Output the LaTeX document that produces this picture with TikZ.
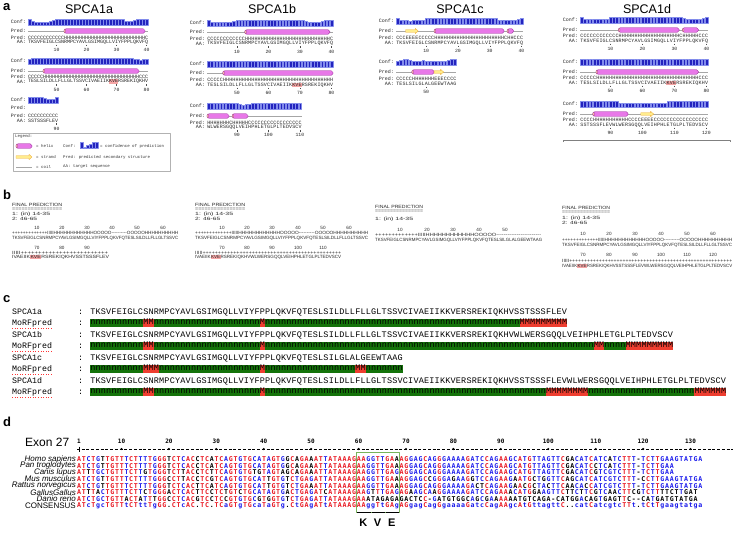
\documentclass[tikz,border=0pt]{standalone}
\usepackage{fontspec}
\setmainfont{Liberation Sans}
\newfontfamily\courfont{Liberation Mono}
\newfontfamily\tinysans{Liberation Sans}
\newfontfamily\alnfont{DejaVu Sans Mono}
\usepackage{xcolor}
\usepackage{graphicx}
\usepackage{tikz}
\usetikzlibrary{calc}

\definecolor{helixpink}{RGB}{232,120,232}
\definecolor{helixedge}{RGB}{150,40,150}
\definecolor{helixtip}{RGB}{250,190,160}
\definecolor{strandyel}{RGB}{255,236,140}
\definecolor{strandedge}{RGB}{240,175,60}
\definecolor{confblue}{RGB}{35,35,190}
\definecolor{conflight}{RGB}{130,140,235}
\definecolor{hlred}{RGB}{245,165,165}
\definecolor{morfgreen}{RGB}{20,115,10}
\definecolor{morfred}{RGB}{238,62,48}
\definecolor{alnred}{RGB}{232,20,30}
\definecolor{alnblue}{RGB}{25,25,235}
\definecolor{boxgreen}{RGB}{120,180,90}

% fixed width character cells
\newlength\chw
\setlength\chw{3pt}
\newcommand\rp[2]{\ifnum#1>0 #2\expandafter\rp\expandafter{\the\numexpr#1-1\relax}{#2}\fi}
\def\fwseq#1{\edef\fwtmp{#1}\expandafter\fwseqA\fwtmp\relax}
\def\fwseqA#1{\ifx\relax#1\else\makebox[\chw][c]{#1}\expandafter\fwseqA\fi}
\newcommand\fitw[2]{\resizebox{#1pt}{\height}{#2}}
\newcommand\hlkve[1]{{\setlength\fboxsep{0.4pt}\colorbox{hlred}{#1}}}

% alignment colouring against the consensus line
\def\alnseq#1#2{\edef\alnall{\noexpand\alnA#1\noexpand\relax\noexpand\qqend#2..........\noexpand\relax\noexpand\qqend}\alnall}
\def\alnA#1#2\qqend#3#4\qqend{\ifx\relax#1\expandafter\alnstop\else\expandafter\alngo\fi{#1}{#2}{#3}{#4}}
\def\alnstop#1#2#3#4{}
\def\alngo#1#2#3#4{\alnchar{#1}{#3}\alnA#2\qqend#4\qqend}
\def\alnchar#1#2{%
  \uppercase{\def\alnCU{#1}\def\alnKU{#2}}%
  \def\alnKL{#2}\def\alncol{black}%
  \ifx\alnCU\alnKU\ifx\alnKL\alnKU\def\alncol{alnred}\else\def\alncol{alnblue}\fi\fi
  \if.#2\def\alncol{black}\fi
  \makebox[\chw][c]{\textcolor{\alncol}{#1}}}

% MoRFpred cells
\def\morfrow#1{\edef\mftmp{#1}\expandafter\morfA\mftmp\relax}
\def\morfA#1{\ifx\relax#1\else\morfch{#1}\expandafter\morfA\fi}
\def\morfch#1{\if n#1\def\mfcol{morfgreen}\else\def\mfcol{morfred}\fi
  \rlap{\textcolor{\mfcol}{\rule[-2.6pt]{\chw}{8.6pt}}}\makebox[\chw][c]{#1}}

% PSIPRED pieces
\newcount\cbi
\def\confbars#1#2#3#4{\def\cbx{#1}\def\cbw{#2}\def\cby{#3}\cbi=0 \cbA#4\relax}
\def\cbA#1{\ifx\relax#1\else\cbdraw{#1}\advance\cbi by 1 \expandafter\cbA\fi}
\def\cbdraw#1{\filldraw[confbar] ({\cbx+\the\cbi*\cbw+0.35},\cby) rectangle ({\cbx+(\the\cbi+1)*\cbw-0.35},{\cby-0.45-0.62*#1});}
\newcommand\helixseg[3]{%
  \draw[helixbar] (#1,#3-2.3) rectangle (#2,#3+2.3);
  \draw[helixcap] (#1+0.8,#3) ellipse (0.8 and 2.0);}
\newcommand\strandseg[3]{%
  \draw[strandarrow] (#1,#3-1.3) -- (#2-3,#3-1.3) -- (#2-3,#3-2.7) -- (#2,#3) -- (#2-3,#3+2.7) -- (#2-3,#3+1.3) -- (#1,#3+1.3) -- cycle;}
\newcommand\psinum[4]{%
  \draw[psitick] (#2,#3+2.6) -- (#2,#3+4.2);
  \node[psinum] (#1) at (#2,#3+8) {#4};}

\def\pA{TKSVFEIGLCSNRMPCYAVLGSIMGQLLVIYFPPLQKVFQ}
\def\pB{TESLSILDLLFLLGLTSSVC}
\def\pC{IVAEIIKKVERSREKIQKHV}

\def\seqHomo{ATCTGTTGTTTCTTTTGGGTCTCACCTCATCAGTGTGCATAGTGGCAGAAATTATAAAGAAGGTTGAAAGGAGCAGGGAAAAGATCCAGAAGCATGTTAGTTCGACATCATCATCTTT-TCTTGAAGTATGA}
\def\seqPan{ATCTGTTGTTTCTTTTGGGTCTCACCTCATCAGTGTGCATAGTGGCAGAAATTATAAAGAAGGTTGAAAGGAGCAGGGAAAAGATCCAGAAGCATGTTAGTTCGACATCCTCATCTTT-TCTTGAA}
\def\seqCanis{ATTTGCTGTTTCTTGTGGGTCTTACCTCTTCAGTGTGTGTAGTAGCAGAAATTATAAAGAAGGTTGAGAGGAGCAGGGAAAAGATCCAGAAGCATGTTAGTTCGACATCGTCGTCTTT-TCTTGAA}
\def\seqMus{ATCTGTTGTTTCTTTTGGGCCTTACCTCGTCAGTGTGCATTGTGTCTGAGATTATAAAGAAGGTTGAAAGGAGCCGGGAGAAGGTCCAGAAGAATGCTGGTTCAGCATCATCGTCTTT-CCTTGAAGTATGA}
\def\seqRattus{ATCTGTTGTTTCTTTTGGGTCTCACTTCATCAGTGTGCATTGTGTCTGAAATTATAAAGAAGGTTGAAAGGAGCAGGGAAAAGACTCAGAAGAACGCTACTTCAACACCATCGTCTTT-TCTTGAAGTATGA}
\def\seqGallus{ATTTACTGTTTCTTCTGGGACTCACTTCCTCTGTCTGCATAGTGACTGAGATCATAAAGAAGTTTGAGAGAAGCAAGGAAAAGATCCAGAAACATGGAAGTTCTTCTTCGTCAACTTCGTCTTTTCTTGAT}
\def\seqDanio{ATCTGCTGTTACTATTTGGCCTCACGTCCTCCGTGTGCGTGGTGTCTGAGATTATAAAGAAATAGAGAGACTCC-GATGTGGCAGCGAAAAAATGTCAGA-CATGGACAGTGAGTTC--CATGATGTATGA}
\def\seqCons{ATcTgcTGTTtCTttTgGG.CTcAC.TC.TCaGTgTGcaTaGTg.CtGAgATtATAAAGAAggTtGAgAGgagCagGgaaaaGatcCagAAgcAtGttagttC..catCatcgtcTTt.tCtTgaagtatga}

\begin{document}
\begin{tikzpicture}[x=1pt,y=-1pt,line join=round,
  panellab/.style={font=\bfseries\fontsize{13}{13}\selectfont,inner sep=0,anchor=base west},
  isotitle/.style={font=\fontsize{12.5}{12.5}\selectfont,inner sep=0},
  psitxt/.style={font=\courfont\fontsize{5}{5}\selectfont,inner sep=0,anchor=west,text=black!85},
  psilab/.style={font=\courfont\fontsize{5}{5}\selectfont,inner sep=0,anchor=east,text=black!85},
  psinum/.style={font=\courfont\fontsize{4.8}{4.8}\selectfont,inner sep=0,text=black!85},
  psitick/.style={line width=0.3pt,black!70},
  colA/.style={execute at begin node={\setlength\chw{3pt}}},
  colB/.style={execute at begin node={\setlength\chw{3.15pt}}},
  colC/.style={execute at begin node={\setlength\chw{3.175pt}}},
  colD/.style={execute at begin node={\setlength\chw{3.2pt}}},
  helixbar/.style={fill=helixpink,draw=helixedge,line width=0.35pt,rounded corners=1.8pt},
  helixcap/.style={fill=helixtip,draw=helixedge,line width=0.2pt},
  strandarrow/.style={fill=strandyel,draw=strandedge,line width=0.35pt},
  coilline/.style={draw=gray!70,line width=0.6pt},
  confbar/.style={fill=confblue,draw=conflight,line width=0.25pt},
  kvehl/.style={fill=hlred},
  legendbox/.style={draw=gray!60,line width=0.7pt},
  legtxt/.style={font=\courfont\fontsize{4.1}{4.1}\selectfont,inner sep=0,anchor=west,text=black!80},
  tmtxt/.style={font=\tinysans\fontsize{4.6}{4.6}\selectfont,inner sep=0,anchor=west,text=black!85},
  tmnum/.style={font=\tinysans\fontsize{4.6}{4.6}\selectfont,inner sep=0,text=black!85},
  morflab/.style={font=\courfont\fontsize{8.3}{8.3}\selectfont,inner sep=0,anchor=west},
  morfbar/.style={font=\courfont\fontsize{8.5}{8.5}\selectfont,inner sep=0,anchor=west,execute at begin node={\setlength\chw{5.3pt}}},
  spellline/.style={draw=red!80,dotted,line width=0.6pt},
  exonlab/.style={font=\fontsize{12}{12}\selectfont,inner sep=0,anchor=west},
  species/.style={font=\itshape\fontsize{8}{8}\selectfont,inner sep=0,anchor=east},
  conslab/.style={font=\fontsize{8}{8}\selectfont,inner sep=0,anchor=east},
  alnrow/.style={font=\alnfont\bfseries\fontsize{6.6}{6.6}\selectfont,inner sep=0,anchor=west,execute at begin node={\setlength\chw{4.742pt}}},
  rulerline/.style={line width=0.8pt,dash pattern=on 3pt off 1.742pt},
  rulernum/.style={font=\alnfont\bfseries\fontsize{6}{6}\selectfont,inner sep=0},
  kvebox/.style={draw=boxgreen,line width=0.9pt},
  codonbar/.style={line width=1.3pt},
  aminolab/.style={font=\bfseries\fontsize{11}{11}\selectfont,inner sep=0}]
  \useasboundingbox (0,0) rectangle (733,544);

  % ---------------- a: PSIPRED
  \node[panellab] (pa) at (3,10.5) {a};
  \node[isotitle] (tA) at (89,9.5) {SPCA1a};
  \node[isotitle] (tB) at (272,9.5) {SPCA1b};
  \node[isotitle] (tC) at (460,9.5) {SPCA1c};
  \node[isotitle] (tD) at (647,9.5) {SPCA1d};

  % SPCA1a
  \confbars{28}{3}{25}{9544444579 9999999999 9999999999 9966678889}
  \node[psilab] (Aconf1) at (26,22) {Conf:};
  \node[psilab] (Apred1) at (26,31) {Pred:};
  \draw[coilline] (28,31) -- (148,31);
  \helixseg{64}{145}{31}
  \node[psilab] (Assl1) at (26,37.5) {Pred:};
  \node[psitxt,colA] (Ass1) at (28,37.5) {\fwseq{\rp{12}{C}\rp{27}{H}C}};
  \node[psilab] (Aaal1) at (26,42) {AA:};
  \node[psitxt,colA] (Aaa1) at (28,42) {\fwseq{\pA}};
  \psinum{An10}{56.5}{42}{10}
  \psinum{An20}{86.5}{42}{20}
  \psinum{An30}{116.5}{42}{30}
  \psinum{An40}{146.5}{42}{40}
  \confbars{28}{3}{64}{7899999999 9999999999 9999999999 9999977677}
  \node[psilab] (Aconf2) at (26,61) {Conf:};
  \node[psilab] (Apred2) at (26,71) {Pred:};
  \draw[coilline] (28,71) -- (148,71);
  \helixseg{43}{139}{71}
  \node[psilab] (Assl2) at (26,77) {Pred:};
  \node[psitxt,colA] (Ass2) at (28,77) {\fwseq{\rp{5}{C}\rp{32}{H}\rp{3}{C}}};
  \fill[kvehl] (109,79.2) rectangle (118,83.8);
  \node[psilab] (Aaal2) at (26,81.5) {AA:};
  \node[psitxt,colA] (Aaa2) at (28,81.5) {\fwseq{\pB\pC}};
  \psinum{An50}{56.5}{81.5}{50}
  \psinum{An60}{86.5}{81.5}{60}
  \psinum{An70}{116.5}{81.5}{70}
  \psinum{An80}{146.5}{81.5}{80}
  \confbars{28}{3}{103}{9999876668}
  \node[psilab] (Aconf3) at (26,100) {Conf:};
  \node[psilab] (Apred3) at (26,108) {Pred:};
  \node[psilab] (Assl3) at (26,116) {Pred:};
  \node[psitxt,colA] (Ass3) at (28,116) {\fwseq{\rp{10}{C}}};
  \node[psilab] (Aaal3) at (26,120.5) {AA:};
  \node[psitxt,colA] (Aaa3) at (28,120.5) {\fwseq{SSTSSSFLEV}};
  \psinum{An90}{56.5}{120.5}{90}

  % legend
  \draw[legendbox] (13,133) rectangle (170,171);
  \node[legtxt] (lgt) at (15,136.5) {Legend:};
  \helixseg{16}{32}{146}
  \node[legtxt] (lghx) at (36,146) {= helix};
  \node[legtxt] (lgcf) at (63,146) {Conf:};
  \confbars{80}{3}{148.5}{925799}
  \node[legtxt] (lgcp) at (100,146) {= confidence of prediction};
  \strandseg{16}{32}{157}
  \node[legtxt] (lgst) at (36,157) {= strand};
  \node[legtxt] (lgpr) at (63,157) {Pred: predicted secondary structure};
  \draw[coilline] (16,167) -- (32,167);
  \node[legtxt] (lgco) at (36,167) {= coil};
  \node[legtxt] (lgaa) at (63,167) {AA: target sequence};

  % SPCA1b
  \confbars{207}{3.15}{26}{9655555679 9999999999 9999999999 8766667899}
  \node[psilab] (Bconf1) at (205,23) {Conf:};
  \node[psilab] (Bpred1) at (205,32) {Pred:};
  \draw[coilline] (207,32) -- (333,32);
  \helixseg{244.8}{329.9}{32}
  \node[psilab] (Bssl1) at (205,38.7) {Pred:};
  \node[psitxt,colB] (Bss1) at (207,38.7) {\fwseq{\rp{12}{C}\rp{27}{H}C}};
  \node[psilab] (Baal1) at (205,43.5) {AA:};
  \node[psitxt,colB] (Baa1) at (207,43.5) {\fwseq{\pA}};
  \psinum{Bn10}{236.9}{43.5}{10}
  \psinum{Bn20}{268.4}{43.5}{20}
  \psinum{Bn30}{299.9}{43.5}{30}
  \psinum{Bn40}{331.4}{43.5}{40}
  \confbars{207}{3.15}{67}{8999999999 9999999999 9999999999 9999999999}
  \node[psilab] (Bconf2) at (205,64) {Conf:};
  \node[psilab] (Bpred2) at (205,73) {Pred:};
  \draw[coilline] (207,73) -- (333,73);
  \helixseg{222.8}{333}{73}
  \node[psilab] (Bssl2) at (205,80) {Pred:};
  \node[psitxt,colB] (Bss2) at (207,80) {\fwseq{\rp{5}{C}\rp{35}{H}}};
  \fill[kvehl] (292,82.7) rectangle (301.5,87.3);
  \node[psilab] (Baal2) at (205,85) {AA:};
  \node[psitxt,colB] (Baa2) at (207,85) {\fwseq{\pB\pC}};
  \psinum{Bn50}{236.9}{85}{50}
  \psinum{Bn60}{268.4}{85}{60}
  \psinum{Bn70}{299.9}{85}{70}
  \psinum{Bn80}{331.4}{85}{80}
  \confbars{207}{3.15}{109}{9999999889 7677899999 9999999999}
  \node[psilab] (Bconf3) at (205,106) {Conf:};
  \node[psilab] (Bpred3) at (205,116) {Pred:};
  \draw[coilline] (207,116) -- (301.5,116);
  \helixseg{207}{229}{116}
  \helixseg{232.2}{248}{116}
  \node[psilab] (Bssl3) at (205,122.5) {Pred:};
  \node[psitxt,colB] (Bss3) at (207,122.5) {\fwseq{\rp{7}{H}C\rp{5}{H}\rp{17}{C}}};
  \node[psilab] (Baal3) at (205,127.3) {AA:};
  \node[psitxt,colB] (Baa3) at (207,127.3) {\fwseq{WLWERSGQQLVEIHPHLETGLPLTEDVSCV}};
  \psinum{Bn90}{236.9}{127.3}{90}
  \psinum{Bn100}{268.4}{127.3}{100}
  \psinum{Bn110}{299.9}{127.3}{110}

  % SPCA1c
  \confbars{396}{3.175}{24}{9655455568 9999999999 9999999999 9955556679}
  \node[psilab] (Cconf1) at (394,21) {Conf:};
  \node[psilab] (Cpred1) at (394,31) {Pred:};
  \draw[coilline] (396,31) -- (523,31);
  \strandseg{405.5}{418.2}{31}
  \helixseg{434.1}{504}{31}
  \helixseg{507.1}{513.5}{31}
  \node[psilab] (Cssl1) at (394,38) {Pred:};
  \node[psitxt,colC] (Css1) at (396,38) {\fwseq{CCCEEEECCCCC\rp{22}{H}CHHCCC}};
  \node[psilab] (Caal1) at (394,43) {AA:};
  \node[psitxt,colC] (Caa1) at (396,43) {\fwseq{\pA}};
  \psinum{Cn10}{426.2}{43}{10}
  \psinum{Cn20}{457.9}{43}{20}
  \psinum{Cn30}{489.7}{43}{30}
  \psinum{Cn40}{521.4}{43}{40}
  \confbars{396}{3.175}{65}{5799765676 665556789}
  \node[psilab] (Cconf2) at (394,62) {Conf:};
  \node[psilab] (Cpred2) at (394,72) {Pred:};
  \draw[coilline] (396,72) -- (456.3,72);
  \helixseg{411.9}{434.1}{72}
  \strandseg{434.1}{443.6}{72}
  \node[psilab] (Cssl2) at (394,79) {Pred:};
  \node[psitxt,colC] (Css2) at (396,79) {\fwseq{CCCCCHHHHHHHEEECCCC}};
  \node[psilab] (Caal2) at (394,84) {AA:};
  \node[psitxt,colC] (Caa2) at (396,84) {\fwseq{TESLSILGLALGEEWTAAG}};
  \psinum{Cn50}{426.2}{84}{50}

  % SPCA1d
  \confbars{580}{3.2}{23}{9655555569 9999999999 9999999999 9975555679}
  \node[psilab] (Dconf1) at (578,20) {Conf:};
  \node[psilab] (Dpred1) at (578,30) {Pred:};
  \draw[coilline] (580,30) -- (708,30);
  \helixseg{618.4}{679.2}{30}
  \helixseg{682.4}{698.4}{30}
  \node[psilab] (Dssl1) at (578,36) {Pred:};
  \node[psitxt,colD] (Dss1) at (580,36) {\fwseq{\rp{12}{C}\rp{19}{H}C\rp{5}{H}\rp{3}{C}}};
  \node[psilab] (Daal1) at (578,41) {AA:};
  \node[psitxt,colD] (Daa1) at (580,41) {\fwseq{\pA}};
  \psinum{Dn10}{610.4}{41}{10}
  \psinum{Dn20}{642.4}{41}{20}
  \psinum{Dn30}{674.4}{41}{30}
  \psinum{Dn40}{706.4}{41}{40}
  \confbars{580}{3.2}{65}{8999999999 9999999999 9999999999 9999999999}
  \node[psilab] (Dconf2) at (578,62) {Conf:};
  \node[psilab] (Dpred2) at (578,72) {Pred:};
  \draw[coilline] (580,72) -- (708,72);
  \helixseg{596}{698.4}{72}
  \node[psilab] (Dssl2) at (578,78) {Pred:};
  \node[psitxt,colD] (Dss2) at (580,78) {\fwseq{\rp{5}{C}\rp{32}{H}\rp{3}{C}}};
  \fill[kvehl] (666.4,80.7) rectangle (676,85.3);
  \node[psilab] (Daal2) at (578,83) {AA:};
  \node[psitxt,colD] (Daa2) at (580,83) {\fwseq{\pB\pC}};
  \psinum{Dn50}{610.4}{83}{50}
  \psinum{Dn60}{642.4}{83}{60}
  \psinum{Dn70}{674.4}{83}{70}
  \psinum{Dn80}{706.4}{83}{80}
  \confbars{580}{3.2}{107}{9999999999 9966555566 5555555899 9999999999}
  \node[psilab] (Dconf3) at (578,104) {Conf:};
  \node[psilab] (Dpred3) at (578,114) {Pred:};
  \draw[coilline] (580,114) -- (708,114);
  \helixseg{592.8}{628}{114}
  \strandseg{640.8}{653.6}{114}
  \node[psilab] (Dssl3) at (578,120) {Pred:};
  \node[psitxt,colD] (Dss3) at (580,120) {\fwseq{\rp{4}{C}\rp{11}{H}\rp{4}{C}\rp{4}{E}\rp{17}{C}}};
  \node[psilab] (Daal3) at (578,125) {AA:};
  \node[psitxt,colD] (Daa3) at (580,125) {\fwseq{SSTSSSFLEVWLWERSGQQLVEIHPHLETGLPLTEDVSCV}};
  \psinum{Dn90}{610.4}{125}{90}
  \psinum{Dn100}{642.4}{125}{100}
  \psinum{Dn110}{674.4}{125}{110}
  \psinum{Dn120}{706.4}{125}{120}
  \draw[line width=0.5pt,gray] (563,142) -- (563,140) -- (730,140) -- (730,142);

  % ---------------- b: topology
  \node[panellab] (pb) at (3,199) {b};
  % SPCA1a
  \node[tmtxt] (bAh) at (12,205) {\fitw{50}{FINAL PREDICTION}};
  \node[tmtxt] (bAe) at (12,209.5) {\fitw{50}{================}};
  \node[tmtxt] (bAs1) at (12,214) {\fitw{38}{1: (in) 14-35}};
  \node[tmtxt] (bAs2) at (12,219) {\fitw{25}{2: 46-65}};
  \node[tmnum] (bAn10) at (37,228) {10};
  \node[tmnum] (bAn20) at (62,228) {20};
  \node[tmnum] (bAn30) at (87,228) {30};
  \node[tmnum] (bAn40) at (112,228) {40};
  \node[tmnum] (bAn50) at (137,228) {50};
  \node[tmnum] (bAn60) at (163,228) {60};
  \node[tmtxt] (bAt1) at (12,233) {\fitw{166}{\rp{13}{+}\rp{5}{I}\rp{12}{H}\rp{5}{O}\rp{10}{-}\rp{5}{O}\rp{10}{H}}};
  \node[tmtxt] (bAq1) at (12,238) {\fitw{166}{\pA\pB}};
  \node[tmnum] (bAn70) at (37,248) {70};
  \node[tmnum] (bAn80) at (62,248) {80};
  \node[tmnum] (bAn90) at (87,248) {90};
  \node[tmtxt] (bAt2) at (12,252.5) {\fitw{96}{\rp{5}{I}\rp{25}{+}}};
  \node[tmtxt] (bAq2) at (12,257) {\fitw{97}{IVAEIIK\hlkve{KVE}RSREKIQKHVSSTSSSFLEV}};
  % SPCA1b
  \node[tmtxt] (bBh) at (195,205) {\fitw{50}{FINAL PREDICTION}};
  \node[tmtxt] (bBe) at (195,209.5) {\fitw{50}{================}};
  \node[tmtxt] (bBs1) at (195,214) {\fitw{38}{1: (in) 14-35}};
  \node[tmtxt] (bBs2) at (195,219) {\fitw{25}{2: 46-65}};
  \node[tmnum] (bBn10) at (222,228) {10};
  \node[tmnum] (bBn20) at (247,228) {20};
  \node[tmnum] (bBn30) at (272,228) {30};
  \node[tmnum] (bBn40) at (298,228) {40};
  \node[tmnum] (bBn50) at (323,228) {50};
  \node[tmnum] (bBn60) at (349,228) {60};
  \node[tmtxt] (bBt1) at (195,233) {\fitw{173}{\rp{13}{+}\rp{5}{I}\rp{12}{H}\rp{5}{O}\rp{10}{-}\rp{5}{O}\rp{10}{H}}};
  \node[tmtxt] (bBq1) at (195,238) {\fitw{173}{\pA\pB}};
  \node[tmnum] (bBn70) at (222,248) {70};
  \node[tmnum] (bBn80) at (247,248) {80};
  \node[tmnum] (bBn90) at (272,248) {90};
  \node[tmnum] (bBn100) at (298,248) {100};
  \node[tmnum] (bBn110) at (323,248) {110};
  \node[tmtxt] (bBt2) at (195,252.5) {\fitw{146}{\rp{5}{I}\rp{45}{+}}};
  \node[tmtxt] (bBq2) at (195,257) {\fitw{146}{IVAEIIK\hlkve{KVE}RSREKIQKHVWLWERSGQQLVEIHPHLETGLPLTEDVSCV}};
  % SPCA1c
  \node[tmtxt] (bCh) at (375,207) {\fitw{48}{FINAL PREDICTION}};
  \node[tmtxt] (bCe) at (375,211.5) {\fitw{48}{================}};
  \node[tmtxt] (bCs1) at (375,219) {\fitw{38}{1: (in) 14-35}};
  \node[tmnum] (bCn10) at (400,230) {10};
  \node[tmnum] (bCn20) at (427,230) {20};
  \node[tmnum] (bCn30) at (453,230) {30};
  \node[tmnum] (bCn40) at (479,230) {40};
  \node[tmnum] (bCn50) at (505,230) {50};
  \node[tmtxt] (bCt1) at (375,235) {\fitw{166}{\rp{13}{+}\rp{5}{I}\rp{12}{H}\rp{5}{O}\rp{24}{-}}};
  \node[tmtxt] (bCq1) at (375,240.5) {\fitw{167}{\pA TESLSILGLALGEEWTAAG}};
  % SPCA1d
  \node[tmtxt] (bDh) at (562,208) {\fitw{48}{FINAL PREDICTION}};
  \node[tmtxt] (bDe) at (562,212.5) {\fitw{48}{================}};
  \node[tmtxt] (bDs1) at (562,218) {\fitw{38}{1: (in) 14-35}};
  \node[tmtxt] (bDs2) at (562,223) {\fitw{25}{2: 46-65}};
  \node[tmnum] (bDn10) at (583,234) {10};
  \node[tmnum] (bDn20) at (609,234) {20};
  \node[tmnum] (bDn30) at (635,234) {30};
  \node[tmnum] (bDn40) at (661,234) {40};
  \node[tmnum] (bDn50) at (687,234) {50};
  \node[tmnum] (bDn60) at (713,234) {60};
  \node[tmtxt] (bDt1) at (562,240) {\fitw{170}{\rp{13}{+}\rp{5}{I}\rp{12}{H}\rp{5}{O}\rp{10}{-}\rp{5}{O}\rp{10}{H}}};
  \node[tmtxt] (bDq1) at (562,245) {\fitw{170}{\pA\pB}};
  \node[tmnum] (bDn70) at (583,255) {70};
  \node[tmnum] (bDn80) at (609,255) {80};
  \node[tmnum] (bDn90) at (635,255) {90};
  \node[tmnum] (bDn100) at (661,255) {100};
  \node[tmnum] (bDn110) at (687,255) {110};
  \node[tmnum] (bDn120) at (713,255) {120};
  \node[tmtxt] (bDt2) at (562,261) {\fitw{170}{\rp{5}{I}\rp{55}{+}}};
  \node[tmtxt] (bDq2) at (562,266) {\fitw{170}{IVAEIIK\hlkve{KVE}RSREKIQKHVSSTSSSFLEVWLWERSGQQLVEIHPHLETGLPLTEDVSCV}};

  % ---------------- c: MoRFpred
  \node[panellab] (pc) at (3,302) {c};
  \node[morflab] (cAlab) at (12,312) {SPCA1a};
  \node[morflab] (cAcol) at (78,312) {:};
  \node[morfbar] (cAseq) at (90,312) {\fwseq{\pA\pB\pC SSTSSSFLEV}};
  \node[morflab] (cAmlab) at (12,323) {MoRFpred};
  \draw[spellline] ([yshift=-1.3pt]cAmlab.south west) -- ([yshift=-1.3pt]cAmlab.south east);
  \node[morflab] (cAmcol) at (78,323) {:};
  \node[morfbar] (cAmorf) at (90,323) {\morfrow{\rp{10}{n}MM\rp{20}{n}M\rp{48}{n}\rp{9}{M}}};
  \node[morflab] (cBlab) at (12,335) {SPCA1b};
  \node[morflab] (cBcol) at (78,335) {:};
  \node[morfbar] (cBseq) at (90,335) {\fwseq{\pA\pB\pC WLWERSGQQLVEIHPHLETGLPLTEDVSCV}};
  \node[morflab] (cBmlab) at (12,346) {MoRFpred};
  \draw[spellline] ([yshift=-1.3pt]cBmlab.south west) -- ([yshift=-1.3pt]cBmlab.south east);
  \node[morflab] (cBmcol) at (78,346) {:};
  \node[morfbar] (cBmorf) at (90,346) {\morfrow{\rp{10}{n}MM\rp{20}{n}M\rp{62}{n}MM\rp{4}{n}\rp{9}{M}}};
  \node[morflab] (cClab) at (12,358) {SPCA1c};
  \node[morflab] (cCcol) at (78,358) {:};
  \node[morfbar] (cCseq) at (90,358) {\fwseq{\pA TESLSILGLALGEEWTAAG}};
  \node[morflab] (cCmlab) at (12,369) {MoRFpred};
  \draw[spellline] ([yshift=-1.3pt]cCmlab.south west) -- ([yshift=-1.3pt]cCmlab.south east);
  \node[morflab] (cCmcol) at (78,369) {:};
  \node[morfbar] (cCmorf) at (90,369) {\morfrow{\rp{10}{n}MMM\rp{19}{n}M\rp{17}{n}MM\rp{7}{n}}};
  \node[morflab] (cDlab) at (12,381) {SPCA1d};
  \node[morflab] (cDcol) at (78,381) {:};
  \node[morfbar] (cDseq) at (90,381) {\fwseq{\pA\pB\pC SSTSSSFLEVWLWERSGQQLVEIHPHLETGLPLTEDVSCV}};
  \node[morflab] (cDmlab) at (12,392) {MoRFpred};
  \draw[spellline] ([yshift=-1.3pt]cDmlab.south west) -- ([yshift=-1.3pt]cDmlab.south east);
  \node[morflab] (cDmcol) at (78,392) {:};
  \node[morfbar] (cDmorf) at (90,392) {\morfrow{\rp{10}{n}MM\rp{20}{n}M\rp{53}{n}\rp{8}{M}\rp{20}{n}\rp{6}{M}}};

  % ---------------- d: exon 27 alignment
  \node[panellab] (pd) at (3,426) {d};
  \node[exonlab] (exon) at (25,442) {Exon 27};
  \draw[rulerline] (77,449) -- (733,449);
  \draw[line width=0.8pt] (78.9,446.5) -- (78.9,451.5);
  \node[rulernum] (r1) at (78.9,441) {1};
  \node[rulernum] (r10) at (121.5,441) {10};
  \node[rulernum] (r20) at (168.9,441) {20};
  \node[rulernum] (r30) at (216.3,441) {30};
  \node[rulernum] (r40) at (263.7,441) {40};
  \node[rulernum] (r50) at (311.1,441) {50};
  \node[rulernum] (r60) at (358.6,441) {60};
  \node[rulernum] (r70) at (406.0,441) {70};
  \node[rulernum] (r80) at (453.4,441) {80};
  \node[rulernum] (r90) at (500.8,441) {90};
  \node[rulernum] (r100) at (548.2,441) {100};
  \node[rulernum] (r110) at (595.7,441) {110};
  \node[rulernum] (r120) at (643.1,441) {120};
  \node[rulernum] (r130) at (690.5,441) {130};
  \fill (121.5,449) circle (1.2) (168.9,449) circle (1.2) (216.3,449) circle (1.2)
        (263.7,449) circle (1.2) (311.1,449) circle (1.2) (358.6,449) circle (1.2)
        (406.0,449) circle (1.2) (453.4,449) circle (1.2) (500.8,449) circle (1.2)
        (548.2,449) circle (1.2) (595.7,449) circle (1.2) (643.1,449) circle (1.2)
        (690.5,449) circle (1.2);
  \node[species] (spHomo) at (76,459) {Homo sapiens};
  \node[alnrow] (alHomo) at (76.5,459) {\alnseq{\seqHomo}{\seqCons}};
  \node[species] (spPan) at (76,465.7) {Pan troglodytes};
  \node[alnrow] (alPan) at (76.5,465.7) {\alnseq{\seqPan}{\seqCons}};
  \node[species] (spCanis) at (76,472.3) {Canis lupus};
  \node[alnrow] (alCanis) at (76.5,472.3) {\alnseq{\seqCanis}{\seqCons}};
  \node[species] (spMus) at (76,479) {Mus musculus};
  \node[alnrow] (alMus) at (76.5,479) {\alnseq{\seqMus}{\seqCons}};
  \node[species] (spRattus) at (76,485.7) {Rattus norvegicus};
  \node[alnrow] (alRattus) at (76.5,485.7) {\alnseq{\seqRattus}{\seqCons}};
  \node[species] (spGallus) at (76,492.3) {GallusGallus};
  \node[alnrow] (alGallus) at (76.5,492.3) {\alnseq{\seqGallus}{\seqCons}};
  \node[species] (spDanio) at (76,499) {Danio rerio};
  \node[alnrow] (alDanio) at (76.5,499) {\alnseq{\seqDanio}{\seqCons}};
  \node[conslab] (spCons) at (76,505.7) {CONSENSUS};
  \node[alnrow] (alCons) at (76.5,505.7) {\alnseq{\seqCons}{\seqCons}};
  \draw[kvebox] (356.3,452.5) rectangle (399.0,512.5);
  \draw[codonbar] (357.0,512.5) -- (370.5,512.5);
  \draw[codonbar] (371.5,512.5) -- (384.5,512.5);
  \draw[codonbar] (385.5,512.5) -- (398.5,512.5);
  \node[aminolab] (aaK) at (363.4,523) {K};
  \node[aminolab] (aaV) at (377.6,523) {V};
  \node[aminolab] (aaE) at (391.8,523) {E};
\end{tikzpicture}
\end{document}
